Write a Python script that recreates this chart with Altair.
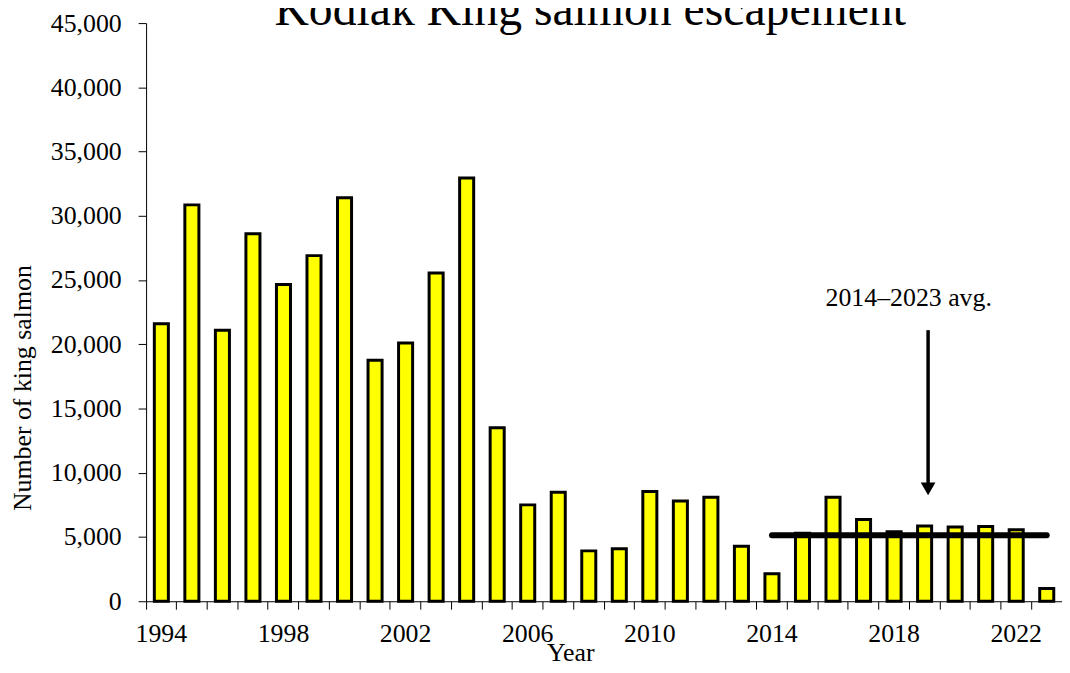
import altair as alt
import pandas as pd

# ---- data ----
years = list(range(1994, 2024))
escapement = [
    21600, 30850, 21100, 28600, 24650, 26900, 31400, 18750, 20100, 25550,
    32950, 13500, 7500, 8480, 3920, 4080, 8550, 7800, 8100, 4280,
    2140, 5300, 8100, 6370, 5400, 5850, 5780, 5820, 5560, 990,
]
y_ticks = list(range(0, 45001, 5000))
label_years = list(range(1994, 2024, 4))

avg_start, avg_end = 2014, 2023
recent = [v for yr, v in zip(years, escapement) if avg_start <= yr <= avg_end]
avg_value = sum(recent) / len(recent)

ann_label = "2014–2023 avg."
ann_year = 2019
ann_text_value = 22970
arrow_top = 21100
arrow_tip = 8750

title_text = "Kodiak King salmon escapement"
x_title = "Year"
y_title = "Number of king salmon"

FONT = "Liberation Serif"

df = pd.DataFrame({"Year": years, "Escapement": escapement})
avg_df = pd.DataFrame({"Year": [avg_start], "YearEnd": [avg_end], "Escapement": [avg_value]})
text_df = pd.DataFrame({"Year": [ann_year], "Escapement": [ann_text_value], "label": [ann_label]})
arrow_df = pd.DataFrame({"Year": [ann_year], "Escapement": [arrow_top], "tip": [arrow_tip]})
head_df = pd.DataFrame({"Year": [ann_year], "Escapement": [arrow_tip]})

x_scale = alt.Scale(paddingInner=0, paddingOuter=0)
y_scale = alt.Scale(domain=[0, 45000], nice=False)

label_test = " || ".join(f"datum.value == {y}" for y in label_years)
x_axis = alt.Axis(
    title=x_title,
    bandPosition=0,
    tickExtra=False,
    labelExpr=f"({label_test}) ? datum.label : ''",
    labelAngle=0,
    labelOverlap=False,
    labelFont=FONT,
    labelFontSize=26,
    labelColor="black",
    labelPadding=12,
    tickSize=8,
    tickColor="black",
    domainColor="black",
    titleFont=FONT,
    titleFontSize=26,
    titleFontWeight="normal",
    titleColor="black",
    titleX=427,
    titleY=60,
    titleBaseline="alphabetic",
    titleAlign="center",
    grid=False,
)

y_axis = alt.Axis(
    title=y_title,
    values=y_ticks,
    format=",.0f",
    labelFont=FONT,
    labelFontSize=26,
    labelColor="black",
    labelPadding=17,
    tickSize=8,
    tickColor="black",
    domainColor="black",
    titleFont=FONT,
    titleFontSize=26,
    titleFontWeight="normal",
    titleColor="black",
    titleAngle=270,
    titleX=-124,
    titleY=367,
    titleAlign="center",
    titleBaseline="middle",
    grid=False,
)

bars = alt.Chart(df).mark_bar(
    fill="#FFFF00", stroke="black", strokeWidth=3, width=alt.RelativeBandSize(0.46)
).encode(
    x=alt.X("Year:O", scale=x_scale, axis=x_axis),
    y=alt.Y("Escapement:Q", scale=y_scale, axis=y_axis),
)

avg_line = alt.Chart(avg_df).mark_rule(
    color="black", strokeWidth=6, strokeCap="round"
).encode(
    x=alt.X("Year:O", bandPosition=0.5),
    x2=alt.X2("YearEnd", bandPosition=0.5),
    y=alt.Y("Escapement:Q"),
)

arrow = alt.Chart(arrow_df).mark_rule(color="black", strokeWidth=3.5, xOffset=3.5).encode(
    x=alt.X("Year:O"),
    y=alt.Y("Escapement:Q"),
    y2=alt.Y2("tip"),
)

head = alt.Chart(head_df).mark_point(
    shape="triangle-down", size=220, filled=True, color="black", opacity=1, xOffset=3.5
).encode(
    x=alt.X("Year:O"),
    y=alt.Y("Escapement:Q"),
)

ann = alt.Chart(text_df).mark_text(
    font=FONT, fontSize=26, color="black", align="center", baseline="alphabetic", dx=-16
).encode(
    x=alt.X("Year:O"),
    y=alt.Y("Escapement:Q"),
    text="label:N",
)

chart = alt.layer(bars, avg_line, arrow, head, ann).properties(
    width=922,
    height=582,
    autosize="none",
    padding={"left": 139, "top": 13, "right": 0, "bottom": 62},
    title=alt.TitleParams(
        text=title_text,
        font=FONT,
        fontSize=48,
        fontWeight="normal",
        color="black",
        offset=-25,
        dx=-14,
    ),
).configure_view(stroke=None)

chart.save("out.html", embed_options={"renderer": "svg", "actions": False})
